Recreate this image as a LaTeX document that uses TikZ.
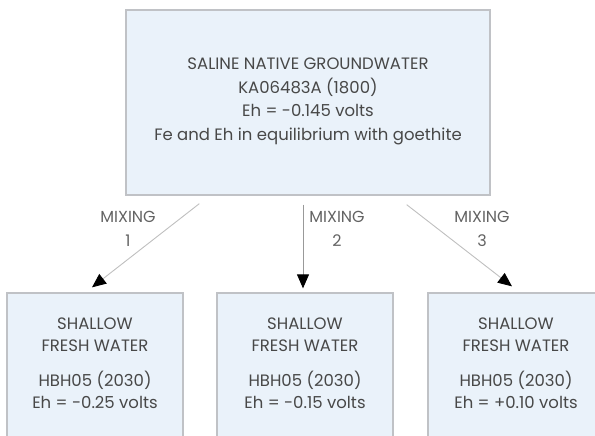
\documentclass[tikz,border=0pt]{standalone}
\usepackage{fontspec}
\setmainfont{Poppins}
\usepackage{tikz}
\usetikzlibrary{arrows.meta}
\usetikzlibrary{positioning}
\usetikzlibrary{math}
\definecolor{boxfill}{RGB}{234,242,250}
\definecolor{boxline}{RGB}{192,194,198}
\definecolor{txtgray}{RGB}{72,72,72}
\tikzstyle{wbox} = [rectangle, draw=boxline, fill=boxfill, line width=1.3pt, inner sep=0pt]
\tikzstyle{toptext} = [align=center, text=txtgray, font=\fontsize{16.5}{23.4}\selectfont]
\tikzstyle{lowtext} = [align=center, text=txtgray, font=\fontsize{16.5}{22}\selectfont]
\tikzstyle{mixlabel} = [align=center, text=txtgray!85, font=\fontsize{16}{24}\selectfont]
\tikzstyle{mixarrow} = [-{Triangle[length=14pt,width=12pt,black]}, draw=gray!50, line width=0.9pt]

\begin{document}
\begin{tikzpicture}[x=1pt, y=-1pt]

  \tikzmath{\bw = 176; \bh = 170; \by = 378;}

  \useasboundingbox (0,0) rectangle (595,436);
  \clip (0,0) rectangle (595,436);

  % native groundwater
  \node[wbox, minimum width=364pt, minimum height=185pt] (saline) at (308,102.5) {};
  \node[toptext] (salinetxt) at (308,101.5) {SALINE NATIVE GROUNDWATER\\KA06483A (1800)\\Eh = -0.145 volts\\Fe and Eh in equilibrium with goethite};

  % shallow fresh water
  \node[wbox, minimum width=\bw pt, minimum height=\bh pt] (fresha) at (95,\by) {};
  \node[wbox, minimum width=\bw pt, minimum height=\bh pt] (freshb) at (305,\by) {};
  \node[wbox, minimum width=\bw pt, minimum height=\bh pt] (freshc) at (516,\by) {};
  \node[lowtext] (freshatxt) at (95,363) {SHALLOW\\FRESH WATER\\[13pt]HBH05 (2030)\\Eh = -0.25 volts};
  \node[lowtext] (freshbtxt) at (305,363) {SHALLOW\\FRESH WATER\\[13pt]HBH05 (2030)\\Eh = -0.15 volts};
  \node[lowtext] (freshctxt) at (516,363) {SHALLOW\\FRESH WATER\\[13pt]HBH05 (2030)\\Eh = +0.10 volts};

  % mixing
  \draw[mixarrow] ([xshift=74pt,yshift=-8pt]saline.south west) -- ([xshift=-3pt,yshift=5pt]fresha.north);
  \draw[mixarrow, draw=gray!80] ([xshift=-5pt,yshift=-9pt]saline.south) -- ([xshift=-2pt,yshift=4pt]freshb.north);
  \draw[mixarrow] ([xshift=-84pt,yshift=-9pt]saline.south east) -- ([xshift=-4pt,yshift=6pt]freshc.north);
  \node[mixlabel] (mixa) at (128,229) {MIXING\\1};
  \node[mixlabel] (mixb) at (337,229) {MIXING\\2};
  \node[mixlabel] (mixc) at (482,229) {MIXING\\3};

\end{tikzpicture}
\end{document}
